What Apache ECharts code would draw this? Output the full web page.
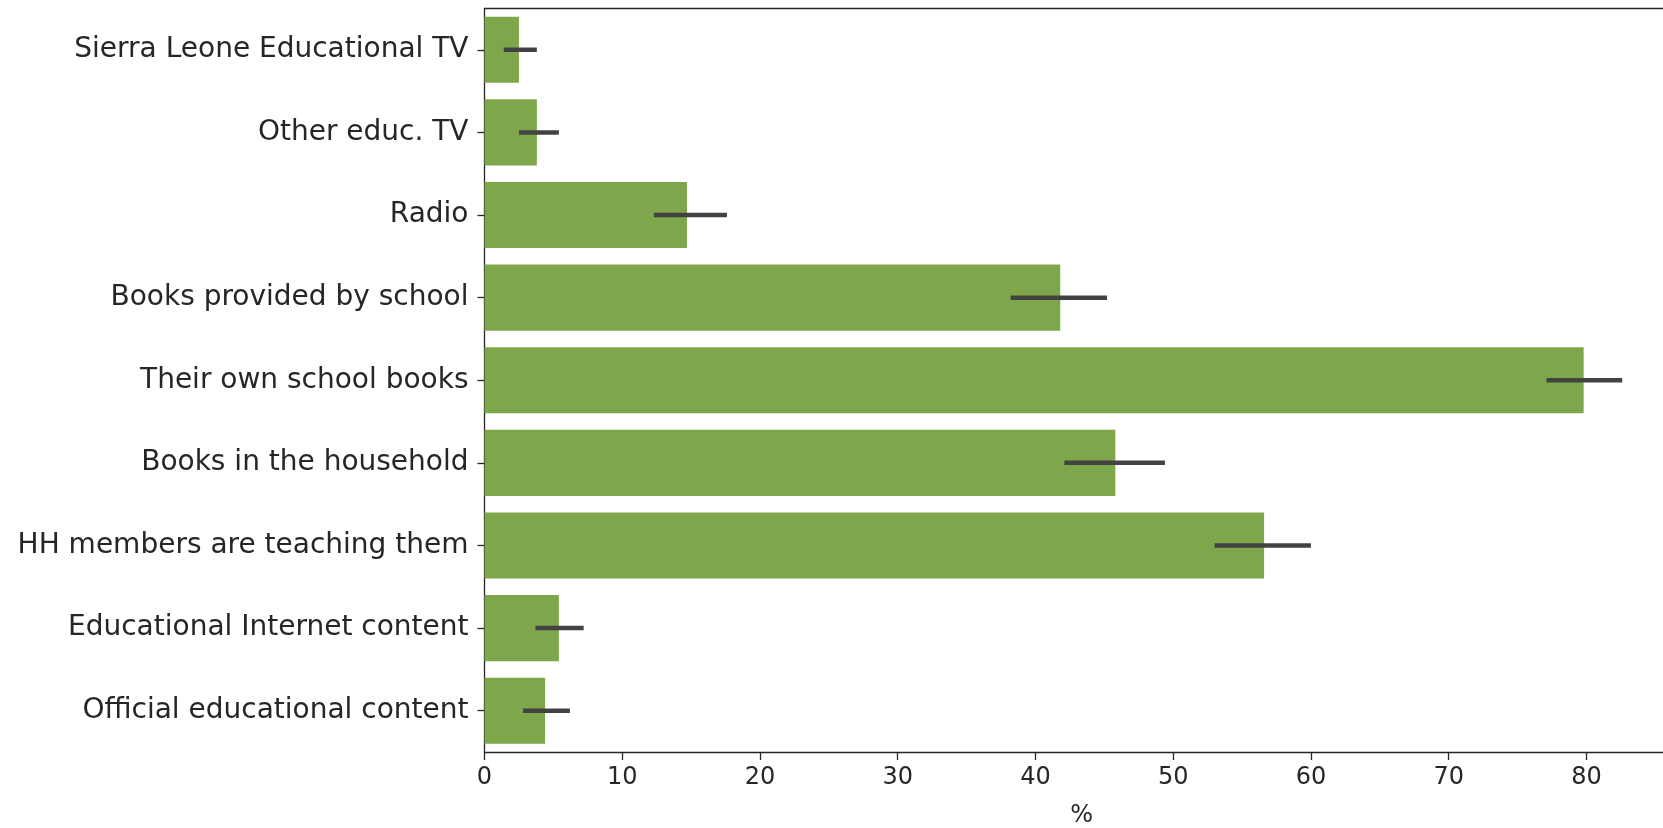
<!DOCTYPE html>
<html>
<head>
<meta charset="utf-8">
<script src="https://cdn.jsdelivr.net/npm/echarts@6/dist/echarts.min.js"></script>
<style>
html,body{margin:0;padding:0;background:#fff;}
#chart{width:1663px;height:828px;}
</style>
</head>
<body>
<div id="chart"></div>
<script>
const categories = [
  "Sierra Leone Educational TV",
  "Other educ. TV",
  "Radio",
  "Books provided by school",
  "Their own school books",
  "Books in the household",
  "HH members are teaching them",
  "Educational Internet content",
  "Official educational content"
];
const values = [2.5, 3.8, 14.7, 41.8, 79.8, 45.8, 56.6, 5.4, 4.4];
const ciLow  = [1.4, 2.5, 12.3, 38.2, 77.1, 42.1, 53.0, 3.7, 2.8];
const ciHigh = [3.8, 5.4, 17.6, 45.2, 82.6, 49.4, 60.0, 7.2, 6.2];
const xTicks = [0, 10, 20, 30, 40, 50, 60, 70, 80];
const xMax = 86.7;

const errData = categories.map((c, i) => [ciLow[i], ciHigh[i], i]);

const chart = echarts.init(document.getElementById('chart'));
const textColor = '#262626';
const FONT = "'DejaVu Sans', 'Liberation Sans', sans-serif";
const spine = {show: true, lineStyle: {color: '#262626', width: 1.3}};

chart.setOption({
  animation: false,
  backgroundColor: '#ffffff',
  grid: {left: 484.5, top: 8.5, height: 743.5, width: 1194.2, containLabel: false, outerBoundsMode: 'none'},
  xAxis: [{
    type: 'value',
    min: 0, max: xMax, interval: 10,
    position: 'bottom',
    axisLine: spine,
    axisTick: {show: true, length: 8, lineStyle: {color: '#262626', width: 1.3}},
    axisLabel: {
      color: textColor, fontFamily: FONT, fontSize: 24, margin: 14,
      formatter: v => xTicks.includes(v) ? String(v) : ''
    },
    splitLine: {show: false},
    name: '%', nameLocation: 'middle', nameGap: 52,
    nameTextStyle: {color: textColor, fontFamily: FONT, fontSize: 24}
  }, {
    type: 'value',
    min: 0, max: xMax,
    position: 'top',
    axisLine: spine,
    axisTick: {show: false},
    axisLabel: {show: false},
    splitLine: {show: false}
  }],
  yAxis: {
    type: 'category',
    data: categories,
    inverse: true,
    axisLine: spine,
    axisTick: {show: true, length: 7, alignWithLabel: true, lineStyle: {color: '#262626', width: 1.3}},
    axisLabel: {color: textColor, fontFamily: FONT, fontSize: 28, margin: 16},
    splitLine: {show: false}
  },
  series: [{
    type: 'bar',
    data: values,
    xAxisIndex: 0,
    barCategoryGap: '20%',
    itemStyle: {color: '#7ea64a'},
    z: 2
  }, {
    type: 'custom',
    xAxisIndex: 0,
    data: errData,
    z: 5,
    renderItem: function (params, api) {
      const p1 = api.coord([api.value(0), api.value(2)]);
      const p2 = api.coord([api.value(1), api.value(2)]);
      return {
        type: 'line',
        shape: {x1: p1[0], y1: p1[1], x2: p2[0], y2: p2[1]},
        style: {stroke: '#424242', lineWidth: 4.5}
      };
    }
  }]
});
</script>
</body>
</html>
